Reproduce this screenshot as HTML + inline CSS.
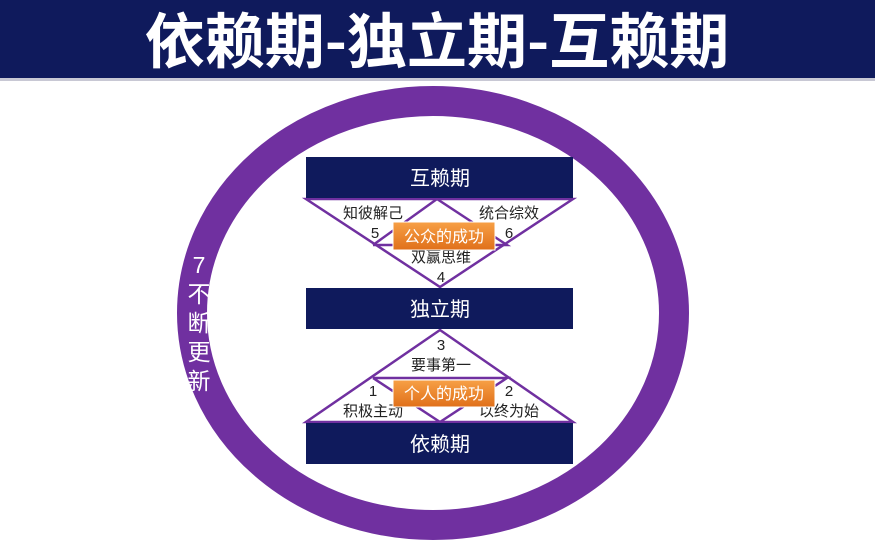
<!DOCTYPE html>
<html><head><meta charset="utf-8"><style>
body{margin:0;width:875px;height:546px;overflow:hidden;background:#fff;font-family:"Liberation Sans","Noto Sans CJK SC",sans-serif;}
</style></head><body>
<svg width="875" height="546" xmlns="http://www.w3.org/2000/svg" style="position:absolute;left:0;top:0">
<defs>
<linearGradient id="og" x1="0" y1="0" x2="0" y2="1"><stop offset="0" stop-color="#f7a046"/><stop offset="1" stop-color="#e0701a"/></linearGradient>
</defs>
<rect x="0" y="0" width="875" height="78" fill="#0f1a5c"/>
<rect x="0" y="78" width="875" height="3" fill="#c8c8d4"/>
<text x="437" y="63" text-anchor="middle" font-size="60" font-weight="bold" fill="#fff" font-family="'Noto Sans CJK SC',sans-serif" letter-spacing="0">依赖期-独立期-互赖期</text>
<ellipse cx="433" cy="313" rx="241" ry="212" fill="none" stroke="#7030a0" stroke-width="30"/>
<g font-size="23" fill="#fff" text-anchor="middle" font-family="'Liberation Sans','Noto Sans CJK SC',sans-serif">
<text x="199" y="273">7</text>
<text x="199" y="302">不</text>
<text x="199" y="331">断</text>
<text x="199" y="360">更</text>
<text x="199" y="389">新</text>
</g>
<g stroke="#7030a0" stroke-width="2.5" fill="none">
<polygon points="306,199 573,199 440,287"/>
<polyline points="373,245 437,199 507,245 373,245"/>
<polygon points="306,422 573,422 440,330"/>
<polyline points="373,378 440,422 507,378 373,378"/>
</g>
<rect x="306" y="157" width="267" height="41" fill="#0f1a5c"/>
<rect x="306" y="288" width="267" height="41" fill="#0f1a5c"/>
<rect x="306" y="423" width="267" height="41" fill="#0f1a5c"/>
<g fill="#fff" font-size="20" text-anchor="middle">
<text x="440" y="185">互赖期</text>
<text x="440" y="316">独立期</text>
<text x="440" y="451">依赖期</text>
</g>
<g fill="#222" font-size="15" text-anchor="middle">
<text x="373" y="218">知彼解己</text>
<text x="509" y="218">统合综效</text>
<text x="375" y="238">5</text>
<text x="509" y="238">6</text>
<text x="441" y="262">双赢思维</text>
<text x="441" y="282">4</text>
<text x="441" y="350">3</text>
<text x="441" y="370">要事第一</text>
<text x="373" y="396">1</text>
<text x="509" y="396">2</text>
<text x="373" y="416">积极主动</text>
<text x="509" y="416">以终为始</text>
</g>
<rect x="393" y="222" width="102" height="28" fill="url(#og)" stroke="#fff" stroke-width="1"/>
<text x="444" y="242" text-anchor="middle" fill="#fff" font-size="16">公众的成功</text>
<rect x="393" y="380" width="102" height="27" fill="url(#og)" stroke="#fff" stroke-width="1"/>
<text x="444" y="399" text-anchor="middle" fill="#fff" font-size="16">个人的成功</text>
</svg>
</body></html>
